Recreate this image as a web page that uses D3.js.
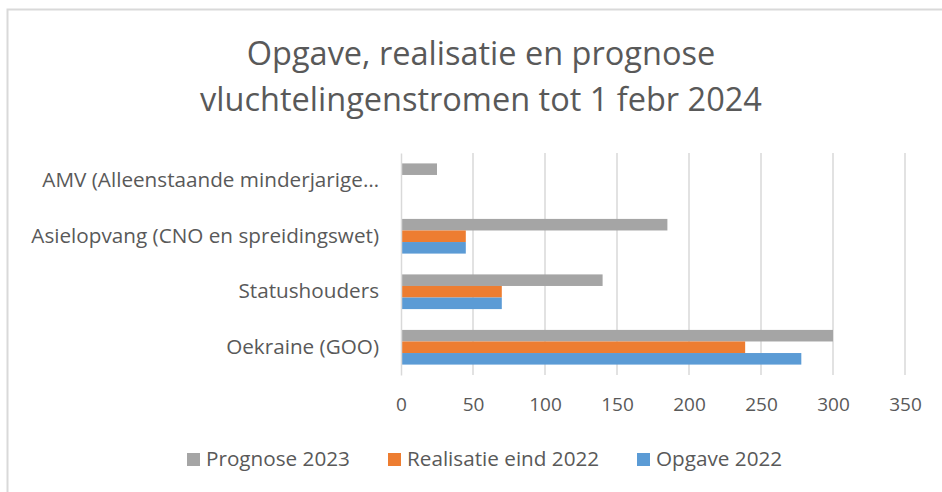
<!DOCTYPE html>
<html>
<head>
<meta charset="utf-8">
<script src="https://cdn.jsdelivr.net/npm/d3@7"></script>
<style>
  body { margin: 0; background: #fff; }
  svg { display: block; font-family: "Open Sans", sans-serif; }
</style>
</head>
<body>
<svg id="chart"></svg>
<script>
// data
const categories = ["AMV (Alleenstaande minderjarige…", "Asielopvang (CNO en spreidingswet)", "Statushouders", "Oekraine (GOO)"];
const prognose2023 = [25, 185, 140, 300];
const realisatie2022 = [null, 45, 70, 239];
const opgave2022 = [null, 45, 70, 278];
const seriesNames = ["Prognose 2023", "Realisatie eind 2022", "Opgave 2022"];
const xTicks = [0, 50, 100, 150, 200, 250, 300, 350];
const titleLines = ["Opgave, realisatie en prognose", "vluchtelingenstromen tot 1 febr 2024"];

const width = 942, height = 492;
const colors = {"Prognose 2023": "#a5a5a5", "Realisatie eind 2022": "#ed7d31", "Opgave 2022": "#5b9bd5"};
const textColor = "#595959";
const gridColor = "#d9d9d9";

const svg = d3.select("#chart").attr("width", width).attr("height", height);

// chart frame
svg.append("path")
    .attr("d", `M7.5,${height} V9.5 H${width}`)
    .attr("fill", "none")
    .attr("stroke", gridColor)
    .attr("stroke-width", 2);

// title
svg.append("g").selectAll("text")
    .data(titleLines)
    .join("text")
    .attr("x", 481)
    .attr("y", (d, i) => 65 + i * 46)
    .attr("text-anchor", "middle")
    .attr("font-size", 32.5)
    .attr("fill", textColor)
    .text(d => d);

const table = categories.map((c, i) => ({
    category: c,
    values: [
        {name: seriesNames[0], value: prognose2023[i]},
        {name: seriesNames[1], value: realisatie2022[i]},
        {name: seriesNames[2], value: opgave2022[i]}
    ]
}));

const x = d3.scaleLinear().domain([0, 350]).range([401, 905]);
const y = d3.scaleBand().domain(categories).range([153, 375]).paddingInner(0.375).paddingOuter(0.1875);
const ySub = d3.scaleBand().domain(seriesNames).range([0, y.bandwidth()]);

// gridlines
svg.append("g").selectAll("line")
    .data(xTicks.slice(1))
    .join("line")
    .attr("x1", d => x(d)).attr("x2", d => x(d))
    .attr("y1", 153).attr("y2", 375)
    .attr("stroke", gridColor)
    .attr("stroke-width", 1.5);

// bars
const groups = svg.append("g").selectAll("g")
    .data(table)
    .join("g")
    .attr("transform", d => `translate(0,${y(d.category)})`);

groups.selectAll("rect")
    .data(d => d.values.filter(v => v.value != null))
    .join("rect")
    .attr("x", x(0))
    .attr("y", d => ySub(d.name))
    .attr("width", d => x(d.value) - x(0))
    .attr("height", ySub.bandwidth())
    .attr("fill", d => colors[d.name]);

// category axis
const yAxis = svg.append("g")
    .attr("transform", `translate(${x(0)},0)`)
    .call(d3.axisLeft(y).tickSize(0).tickPadding(22));
yAxis.select(".domain").attr("stroke", gridColor).attr("stroke-width", 1.5);
yAxis.selectAll("text")
    .attr("font-size", 20.7)
    .attr("font-family", "Open Sans, sans-serif")
    .attr("fill", textColor);

// value axis labels
const xAxis = svg.append("g")
    .attr("transform", `translate(0,375)`)
    .call(d3.axisBottom(x).tickValues(xTicks).tickSize(0).tickPadding(23));
xAxis.select(".domain").remove();
xAxis.selectAll("text")
    .attr("font-size", 19)
    .attr("font-family", "Open Sans, sans-serif")
    .attr("fill", textColor);

// legend
const legendX = [187, 388, 637];
const legend = svg.append("g").selectAll("g")
    .data(seriesNames)
    .join("g")
    .attr("transform", (d, i) => `translate(${legendX[i]},453)`);
legend.append("rect")
    .attr("width", 13).attr("height", 13)
    .attr("fill", d => colors[d]);
legend.append("text")
    .attr("x", 19)
    .attr("y", 12.5)
    .attr("font-size", 20.7)
    .attr("fill", textColor)
    .text(d => d);
</script>
</body>
</html>
